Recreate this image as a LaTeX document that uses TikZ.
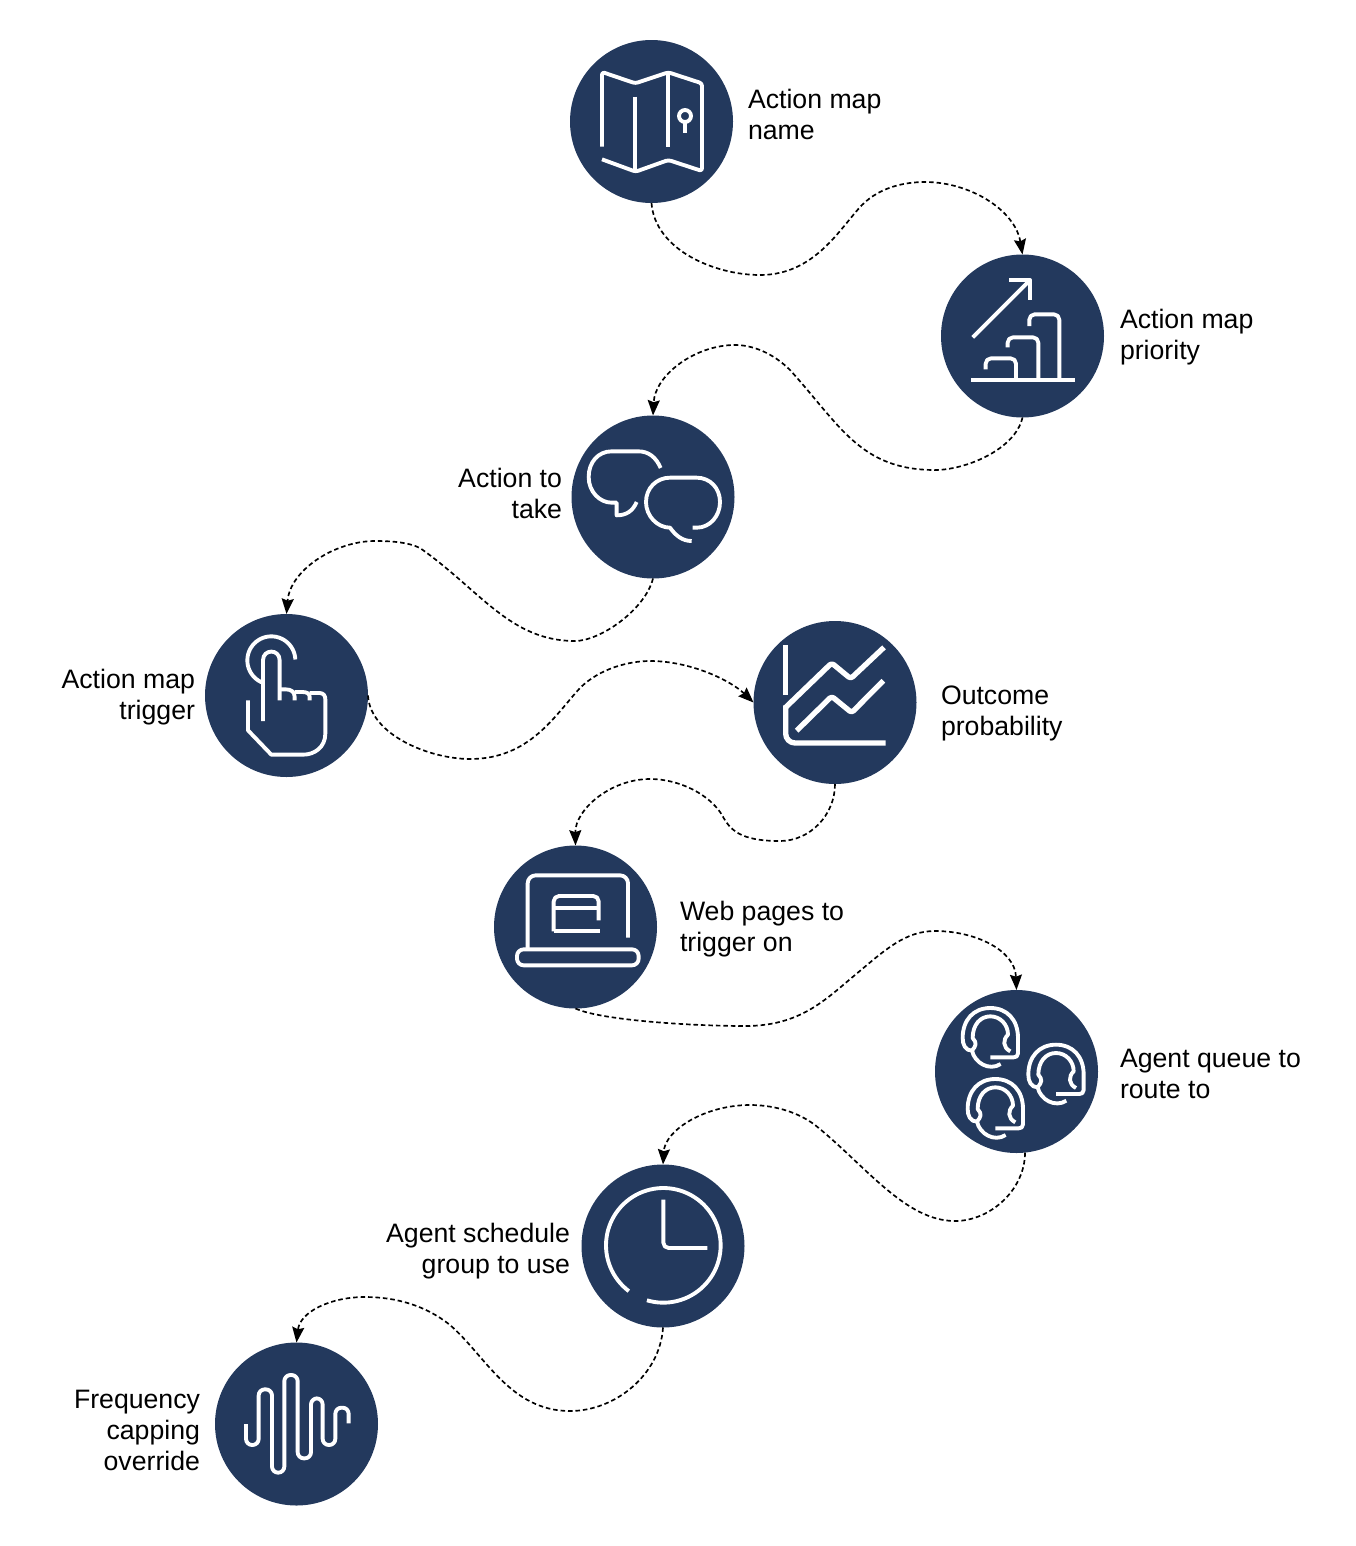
\documentclass[tikz,border=0pt]{standalone}
\usepackage{fontspec}
\setmainfont{Liberation Sans}
\usetikzlibrary{arrows.meta}
\definecolor{navy}{HTML}{23395D}
\tikzset{
  disc/.style={circle,fill=navy,draw=none,inner sep=0pt,outer sep=0pt,minimum size=122.25pt},
  lab/.style={inner sep=0pt,outer sep=0pt,font=\fontsize{20}{23.25}\selectfont},
  labr/.style={lab,anchor=west,align=left},
  labl/.style={lab,anchor=east,align=right},
  conn/.style={draw=black,line width=1.25pt,dash pattern=on 3.4pt off 2.2pt,-{Stealth[length=11.5pt,width=9pt,inset=1.5pt]}},
  ico/.style={draw=white,line width=2.9pt,line cap=butt,line join=round},
  icosp/.style={x=0.25pt,y=-0.25pt}
}
\newcommand{\headsetmark}[2]{%
  \begin{scope}[shift={(#1,#2)}]
    \draw[ico] (120,188) .. controls (100,188) and (92,170) .. (92,150)
      .. controls (92,95) and (125,60) .. (175,60)
      .. controls (225,60) and (258,95) .. (258,150)
      -- (258,196) .. controls (258,205) and (252,208) .. (245,208) -- (175,208);
    \draw[ico] (120,188) .. controls (133,172) and (135,165) .. (122,150)
      .. controls (122,110) and (145,85) .. (175,85)
      .. controls (205,85) and (228,110) .. (228,140)
      .. controls (212,155) and (212,178) .. (235,190);
    \draw[ico] (120,188) .. controls (128,225) and (172,250) .. (206,228);
  \end{scope}}
\begin{document}
\begin{tikzpicture}[x=0.75pt,y=-0.75pt]
\useasboundingbox (0,0) rectangle (1356,1546);
% discs
\node[disc] (n1) at (651.5,121.5) {};
\node[disc] (n2) at (1022.5,336) {};
\node[disc] (n3) at (653,497) {};
\node[disc] (n4) at (286.5,695.5) {};
\node[disc] (n5) at (835,702.5) {};
\node[disc] (n6) at (575.5,927) {};
\node[disc] (n7) at (1016.5,1071.5) {};
\node[disc] (n8) at (663,1246) {};
\node[disc] (n9) at (296.5,1424) {};
% labels
\node[labr] (t1) at (748,117.3) {Action map\strut\\name\strut};
\node[labr] (t2) at (1120,337.3) {Action map\strut\\priority\strut};
\node[labl] (t3) at (562,496.3) {Action to\strut\\take\strut};
\node[labl] (t4) at (195,697.3) {Action map\strut\\trigger\strut};
\node[labr] (t5) at (941,713.3) {Outcome\strut\\probability\strut};
\node[labr] (t6) at (680,929.3) {Web pages to\strut\\trigger on\strut};
\node[labr] (t7) at (1120,1076.3) {Agent queue to\strut\\route to\strut};
\node[labl] (t8) at (570,1251.3) {Agent schedule\strut\\group to use\strut};
\node[labl] (t9) at (200,1432.8) {Frequency\strut\\capping\strut\\override\strut};
% connectors
\draw[conn] (n1.south) .. controls (655,250) and (715,275) .. (760,275)
  .. controls (815,275) and (840,228) .. (862,205)
  .. controls (880,187) and (905,182) .. (925,182)
  .. controls (970,182) and (1015,210) .. (n2.north);
\draw[conn] (n2.south) .. controls (1015,450) and (965,470) .. (935,470)
  .. controls (860,470) and (840,425) .. (790,370)
  .. controls (775,355) and (755,345) .. (735,345)
  .. controls (695,345) and (655,375) .. (n3.north);
\draw[conn] (n3.south) .. controls (645,610) and (600,641) .. (575,641)
  .. controls (510,641) and (480,590) .. (420,548)
  .. controls (408,542) and (390,541) .. (375,541)
  .. controls (335,541) and (290,570) .. (n4.north);
\draw[conn] (n4.east) .. controls (370,735) and (430,759) .. (470,759)
  .. controls (530,759) and (555,715) .. (580,688)
  .. controls (600,668) and (630,661) .. (650,661)
  .. controls (690,661) and (730,680) .. (n5.west);
\draw[conn] (n5.south) .. controls (835,815) and (810,841) .. (780,841)
  .. controls (740,841) and (730,830) .. (722,815)
  .. controls (710,795) and (680,779) .. (650,779)
  .. controls (610,779) and (575,810) .. (n6.north);
\draw[conn] (n6.south) .. controls (600,1020) and (690,1026) .. (745,1026)
  .. controls (800,1026) and (825,1000) .. (855,975)
  .. controls (885,950) and (905,931) .. (935,931)
  .. controls (975,931) and (1015,950) .. (n7.north);
\draw[conn] (n7.-84) .. controls (1025,1190) and (990,1221) .. (955,1221)
  .. controls (905,1221) and (865,1165) .. (815,1125)
  .. controls (795,1110) and (770,1105) .. (750,1105)
  .. controls (705,1105) and (665,1130) .. (n8.north);
\draw[conn] (n8.south) .. controls (660,1375) and (615,1411) .. (570,1411)
  .. controls (510,1411) and (485,1355) .. (450,1325)
  .. controls (425,1305) and (395,1297) .. (365,1297)
  .. controls (330,1297) and (300,1312) .. (n9.north);
% icon 1: map
\begin{scope}[shift={(570,40)},icosp]
  \draw[ico,rounded corners=2pt] (96,320) -- (96,96) -- (196,130) -- (295,97) -- (396,130) -- (396,393) -- (295,360) -- (197,395) -- (96,358);
  \draw[ico] (195,170) -- (195,395);
  \draw[ico] (295,97) -- (295,320);
  \draw[ico] (345,228) circle[radius=18];
  \draw[ico] (345,246) -- (345,278);
\end{scope}
% icon 2: growth
\begin{scope}[shift={(940,250)},icosp]
  \draw[ico] (98,262) -- (270,90);
  \draw[ico] (208,90) -- (270,90) -- (270,150);
  \draw[ico] (93,390) -- (405,390);
  \draw[ico,rounded corners=4pt] (137,358) -- (137,325) -- (228,325) -- (228,390);
  \draw[ico,rounded corners=4pt] (203,292) -- (203,262) -- (295,262) -- (295,390);
  \draw[ico,rounded corners=4pt] (268,228) -- (268,193) -- (358,193) -- (358,390);
\end{scope}
% icon 3: speech bubbles
\begin{scope}[shift={(570,412)},icosp]
  \draw[ico] (272,168) .. controls (258,135) and (235,118) .. (205,118) -- (125,118)
    .. controls (85,118) and (56,150) .. (56,195)
    .. controls (56,240) and (90,272) .. (125,272) -- (140,272) -- (140,310)
    .. controls (168,310) and (188,298) .. (200,270);
  \draw[ico] (368,347) -- (380,347) .. controls (420,347) and (450,312) .. (450,270)
    .. controls (450,228) and (420,197) .. (380,197) -- (300,197)
    .. controls (260,197) and (228,228) .. (228,270)
    .. controls (228,312) and (262,347) .. (300,347)
    .. controls (318,372) and (338,387) .. (365,387);
\end{scope}
% icon 4: hand
\begin{scope}[shift={(203,612)},icosp]
  \draw[ico] plot[smooth,samples=40,domain=-250:-2] ({205+72*cos(\x)},{145+72*sin(\x)});
  \draw[ico] (180,327) -- (180,145) .. controls (180,110) and (230,110) .. (230,145) -- (230,265);
  \draw[ico] (230,232) -- (248,232) .. controls (265,232) and (275,240) .. (275,255) -- (275,265);
  \draw[ico] (275,240) -- (298,240) .. controls (312,240) and (320,245) .. (320,255) -- (320,265);
  \draw[ico] (320,243) -- (350,243) .. controls (362,243) and (367,252) .. (367,262) -- (367,365)
    .. controls (367,405) and (335,428) .. (300,428) -- (205,428) -- (135,355) -- (135,265);
\end{scope}
% icon 5: chart
\begin{scope}[shift={(750,618)},icosp,ico/.append style={line width=4pt}]
  \draw[ico] (107,82) -- (107,232);
  \draw[ico,rounded corners=7pt] (107,262) -- (107,375) -- (407,375);
  \draw[ico,rounded corners=2pt] (107,268) -- (245,135) -- (302,182) -- (402,88);
  \draw[ico,rounded corners=2pt] (140,338) -- (245,235) -- (305,284) -- (400,188);
\end{scope}
% icon 6: laptop
\begin{scope}[shift={(492,842)},icosp]
  \draw[ico,rounded corners=6pt] (107,318) -- (107,100) -- (408,100) -- (408,287);
  \draw[ico,rounded corners=5pt] (75,322) rectangle (440,370);
  \draw[ico,rounded corners=4pt] (320,235) -- (320,162) -- (185,162) -- (185,268);
  \draw[ico] (185,268) -- (325,268);
  \draw[ico] (185,197) -- (320,197);
\end{scope}
% icon 7: headsets
\begin{scope}[shift={(932,988)},icosp]
  \headsetmark{0}{0}
  \headsetmark{197}{110}
  \headsetmark{15}{213}
\end{scope}
% icon 8: clock
\begin{scope}[shift={(580,1162)},icosp]
  \draw[ico] plot[smooth,samples=90,domain=127:466.6] ({250+172*cos(\x)},{250+172*sin(\x)});
  \draw[ico,rounded corners=4pt] (250,113) -- (250,258) -- (382,258);
\end{scope}
% icon 9: wave
\begin{scope}[shift={(212,1340)},icosp]
  \draw[ico,rounded corners=4.6pt] (102,252) -- (102,315) -- (140,315) -- (140,148) -- (180,148) -- (180,398) -- (217,398) -- (217,105) -- (257,105) -- (257,355) -- (297,355) -- (297,175) -- (332,175) -- (332,315) -- (370,315) -- (370,203) -- (410,203) -- (410,250);
\end{scope}
\end{tikzpicture}
\end{document}
